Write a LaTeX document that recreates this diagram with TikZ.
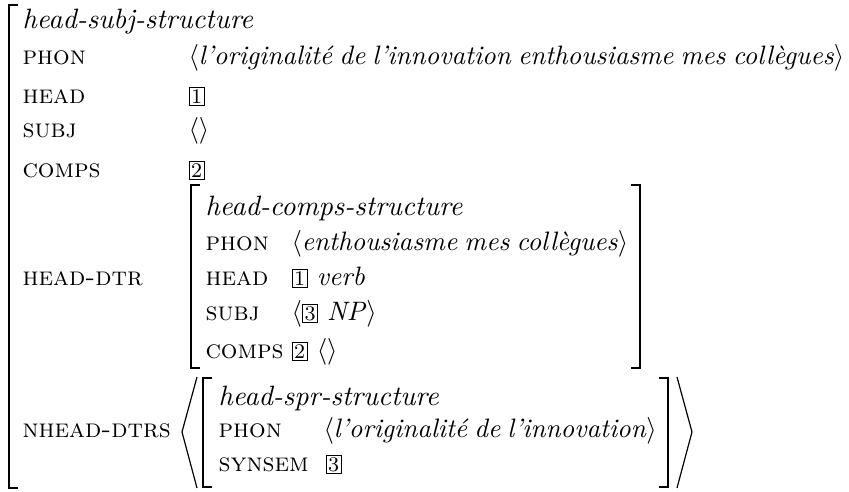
\documentclass[tikz,border=0pt]{standalone}
\usepackage{fontspec}
\usepackage{amsmath}
\usepackage{tikz}

% 结构标记（方框数字）
\newcommand{\tagnum}[1]{{\setlength{\fboxsep}{0.6pt}\setlength{\fboxrule}{0.4pt}\fbox{\fontsize{7.8}{8}\selectfont #1}}}
\newcommand{\feat}[1]{{\fontsize{9.8}{12}\selectfont\textsc{#1}}}
\newcommand{\avmtype}[1]{{\fontsize{10.5}{12}\selectfont\textit{#1}}}
% 音系串（词距略紧）
\newcommand{\phonstr}[1]{$\langle$\textit{\spaceskip=0.27em plus 0.1em minus 0.1em #1}$\rangle$}

\begin{document}
\begin{tikzpicture}[x=0.375pt, y=-0.375pt,
    every node/.style={inner sep=0pt, anchor=base west},
    stem/.style={line width=1.1pt},
    serif/.style={line width=0.4pt},
    seqline/.style={line width=0.45pt}]
    \useasboundingbox (0,0) rectangle (849,491);

    % 外层方括号（只有左边）
    \draw[serif] (18,5) -- (9,5) -- (9,488) -- (18,488);
    \draw[stem] (9,5) -- (9,488);

    % 外层特征
    \node (tsubj) at (22,28) {\avmtype{head-subj-structure}};
    \node (fphon) at (22,64) {\feat{phon}};
    \node (vphon) at (188,64) {\phonstr{l'originalité de l'innovation enthousiasme mes collègues}};
    \node (fhead) at (22,103) {\feat{head}};
    \node (vhead) at (188,103) {\tagnum{1}};
    \node (fsubj) at (22,137) {\feat{subj}};
    \node (vsubj) at (188,137) {$\langle\rangle$};
    \node (fcomps) at (22,177) {\feat{comps}};
    \node (vcomps) at (188,177) {\tagnum{2}};
    \node (fhdtr) at (22,285) {\feat{head-dtr}};
    \node (fnhdtrs) at (22,437) {\feat{nhead-dtrs}};

    % HEAD-DTR 的方括号
    \draw[serif] (200,185) -- (191,185) -- (191,368) -- (200,368);
    \draw[stem] (191,185) -- (191,368);
    \draw[serif] (631,185) -- (640,185) -- (640,368) -- (631,368);
    \draw[stem] (640,185) -- (640,368);

    \node (tcomps) at (205,215) {\avmtype{head-comps-structure}};
    \node (cphon) at (205,250) {\feat{phon}};
    \node (cphonv) at (291,250) {\phonstr{enthousiasme mes collègues}};
    \node (chead) at (205,285) {\feat{head}};
    \node (cheadv) at (291,285) {\tagnum{1} \textit{verb}};
    \node (csubj) at (205,320) {\feat{subj}};
    \node (csubjv) at (291,320) {$\langle$\tagnum{3} \textit{NP}$\rangle$};
    \node (ccomps) at (205,358) {\feat{comps}};
    \node (ccompsv) at (291,358) {\tagnum{2} $\langle\rangle$};

    % NHEAD-DTRS 的尖括号
    \draw[seqline] (197,377) -- (182,432) -- (197,488);
    \draw[seqline] (677,377) -- (692,432) -- (677,488);

    % head-spr 的方括号
    \draw[serif] (212,378) -- (203,378) -- (203,487) -- (212,487);
    \draw[stem] (203,378) -- (203,487);
    \draw[serif] (659,378) -- (668,378) -- (668,487) -- (659,487);
    \draw[stem] (668,378) -- (668,487);

    \node (tspr) at (218,405) {\avmtype{head-spr-structure}};
    \node (sphon) at (218,437) {\feat{phon}};
    \node (sphonv) at (323,437) {\phonstr{l'originalité de l'innovation}};
    \node (ssyn) at (218,471) {\feat{synsem}};
    \node (ssynv) at (325,471) {\tagnum{3}};
\end{tikzpicture}
\end{document}
